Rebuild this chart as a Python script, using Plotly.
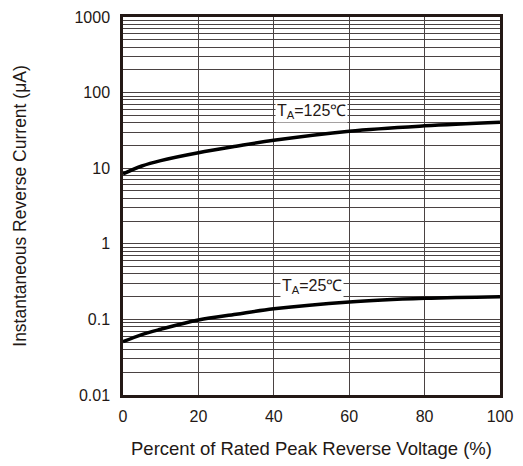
import plotly.graph_objects as go

# Data
voltage_pct = [0, 5, 10, 20, 30, 40, 60, 80, 100]
current_125C = [8.4, 10.7, 12.6, 16.0, 19.5, 23.4, 30.9, 36.3, 40.5]
current_25C = [0.0507, 0.063, 0.074, 0.098, 0.117, 0.138, 0.170, 0.190, 0.200]

x_ticks = [0, 20, 40, 60, 80, 100]
y_major = [0.01, 0.1, 1, 10, 100, 1000]
y_major_labels = ["0.01", "0.1", "1", "10", "100", "1000"]
y_minor = [round(m * d, 6) for d in [0.01, 0.1, 1, 10, 100] for m in range(2, 10)]

font_family = "Liberation Sans, Arial, sans-serif"
ink = "#231815"
grid = "#4a4242"

fig = go.Figure()
fig.add_trace(go.Scatter(x=voltage_pct, y=current_125C, mode="lines",
                         line=dict(color="black", width=3.5, shape="spline"),
                         showlegend=False, hoverinfo="skip"))
fig.add_trace(go.Scatter(x=voltage_pct, y=current_25C, mode="lines",
                         line=dict(color="black", width=3.5, shape="spline"),
                         showlegend=False, hoverinfo="skip"))

fig.add_annotation(x=50, y=1.747, xref="x", yref="y", yanchor="middle",
                   text="T<sub>A</sub>=125℃", showarrow=False,
                   font=dict(family=font_family, size=16, color=ink),
                   bgcolor="white", borderpad=1)
fig.add_annotation(x=50, y=-0.567, xref="x", yref="y", yanchor="middle",
                   text="T<sub>A</sub>=25℃", showarrow=False,
                   font=dict(family=font_family, size=16, color=ink),
                   bgcolor="white", borderpad=1)

fig.update_layout(
    width=523, height=466,
    margin=dict(l=123, r=23, t=17, b=71),
    paper_bgcolor="white", plot_bgcolor="white",
    font=dict(family=font_family, size=16, color=ink),
)
fig.update_xaxes(
    range=[0, 100], tickvals=x_ticks, ticktext=[str(v) for v in x_ticks],
    showgrid=True, gridcolor=grid, gridwidth=1,
    showline=True, linecolor=ink, linewidth=2.5, mirror=True,
    ticks="", ticklabelstandoff=5, zeroline=False, automargin=False,
    tickfont=dict(size=16),
    title=dict(text="Percent of Rated Peak Reverse Voltage (%)",
               font=dict(size=18.5), standoff=19),
)
fig.update_yaxes(
    type="log", range=[-2, 3], tickvals=y_major, ticktext=y_major_labels,
    showgrid=True, gridcolor=grid, gridwidth=1,
    minor=dict(tickvals=y_minor, showgrid=True, gridcolor=grid, gridwidth=1, ticks=""),
    showline=True, linecolor=ink, linewidth=2.5, mirror=True,
    ticks="", ticklabelstandoff=7, zeroline=False, automargin=False,
    tickfont=dict(size=16),
    title=dict(text="Instantaneous Reverse Current (μA)",
               font=dict(size=17.5), standoff=44),
)

fig.write_html("out.html", config={"displayModeBar": False},
               post_script="document.body.style.margin='0';window.dispatchEvent(new Event('resize'));")
